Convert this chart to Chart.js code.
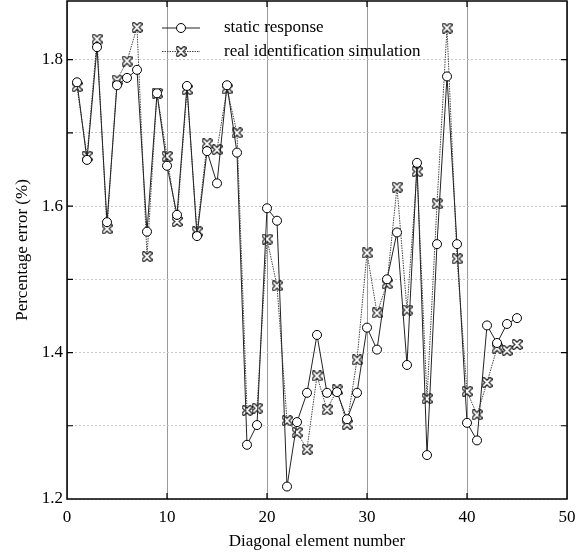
<!DOCTYPE html>
<html>
<head>
<meta charset="utf-8">
<script src="https://cdn.jsdelivr.net/npm/chart.js@4.4.1/dist/chart.umd.min.js"></script>
<style>
  html, body { margin: 0; background: #fff; }
  #wrap { width: 586px; height: 558px; }
</style>
</head>
<body>
<div id="wrap"><canvas id="myChart"></canvas></div>
<script>
const elements = Array.from({ length: 45 }, (_, i) => i + 1);
const staticResponse = [
  1.769, 1.663, 1.817, 1.578, 1.765, 1.775, 1.786, 1.565, 1.754, 1.655,
  1.588, 1.764, 1.559, 1.675, 1.631, 1.765, 1.673, 1.274, 1.301, 1.597,
  1.580, 1.217, 1.305, 1.345, 1.424, 1.345, 1.346, 1.309, 1.345, 1.434,
  1.404, 1.500, 1.564, 1.383, 1.659, 1.260, 1.548, 1.777, 1.548, 1.304,
  1.280, 1.437, 1.413, 1.439, 1.447,
];
const realIdentification = [
  1.763, 1.668, 1.828, 1.569, 1.772, 1.798, 1.844, 1.531, 1.754, 1.668,
  1.579, 1.759, 1.565, 1.685, 1.677, 1.760, 1.700, 1.321, 1.324, 1.555,
  1.491, 1.307, 1.291, 1.268, 1.368, 1.322, 1.349, 1.302, 1.390, 1.536,
  1.454, 1.494, 1.626, 1.458, 1.647, 1.337, 1.603, 1.843, 1.528, 1.347,
  1.315, 1.359, 1.406, 1.403, 1.411,
];
const xTicks = [0, 10, 20, 30, 40, 50];
const yTicks = [1.2, 1.3, 1.4, 1.5, 1.6, 1.7, 1.8];

const serif = "'Liberation Serif', 'DejaVu Serif', serif";
const font = { family: serif, size: 17 };

// hollow X marker
function makeCross() {
  const c = document.createElement("canvas");
  c.width = 11;
  c.height = 11;
  const g = c.getContext("2d");
  g.lineCap = "round";
  const strokeX = () => {
    g.beginPath();
    g.moveTo(2.3, 2.3); g.lineTo(8.7, 8.7);
    g.moveTo(8.7, 2.3); g.lineTo(2.3, 8.7);
    g.stroke();
  };
  g.strokeStyle = "#000";
  g.lineWidth = 4.2;
  strokeX();
  g.strokeStyle = "#fff";
  g.lineWidth = 2;
  strokeX();
  return c;
}
const crossImg = makeCross();

const toPoints = (vals) => vals.map((v, i) => ({ x: elements[i], y: v }));

const framePlugin = {
  id: "frame",
  afterDraw(chart) {
    const { ctx, chartArea: a, scales } = chart;
    ctx.save();
    ctx.strokeStyle = "#000";
    ctx.lineWidth = 1.5;
    ctx.strokeRect(a.left, a.top, a.right - a.left, a.bottom - a.top);
    ctx.lineWidth = 1.2;
    ctx.beginPath();
    xTicks.slice(1, -1).forEach((v) => {
      const px = scales.x.getPixelForValue(v);
      ctx.moveTo(px, a.bottom); ctx.lineTo(px, a.bottom - 6);
      ctx.moveTo(px, a.top); ctx.lineTo(px, a.top + 6);
    });
    yTicks.slice(1).forEach((v) => {
      const py = scales.y.getPixelForValue(v);
      ctx.moveTo(a.left, py); ctx.lineTo(a.left + 6, py);
      ctx.moveTo(a.right, py); ctx.lineTo(a.right - 6, py);
    });
    ctx.stroke();

    // legend
    chart.data.datasets.forEach((ds, i) => {
      const y = a.top + 27 + i * 23.5;
      const x0 = a.left + 95;
      ctx.strokeStyle = ds.borderColor;
      ctx.lineWidth = ds.borderWidth;
      ctx.setLineDash(ds.borderDash || []);
      ctx.beginPath();
      ctx.moveTo(x0, y); ctx.lineTo(x0 + 38, y);
      ctx.stroke();
      ctx.setLineDash([]);
      if (ds.pointStyle === "circle") {
        ctx.fillStyle = "#fff";
        ctx.strokeStyle = "#000";
        ctx.lineWidth = 1;
        ctx.beginPath();
        ctx.arc(x0 + 19, y, ds.pointRadius, 0, Math.PI * 2);
        ctx.fill();
        ctx.stroke();
      } else {
        Chart.helpers.drawPoint(ctx, {
          pointStyle: ds.pointStyle,
          radius: ds.pointRadius,
          borderWidth: ds.pointBorderWidth,
          rotation: 0,
        }, x0 + 19, y);
      }
      ctx.fillStyle = "#000";
      ctx.font = `17px ${serif}`;
      ctx.textBaseline = "middle";
      ctx.fillText(ds.label, x0 + 62, y);
    });
    ctx.restore();
  },
};

new Chart(document.getElementById("myChart"), {
  type: "line",
  data: {
    datasets: [
      {
        label: "static response",
        data: toPoints(staticResponse),
        borderColor: "#222",
        borderWidth: 1,
        pointStyle: "circle",
        pointRadius: 4.5,
        pointBackgroundColor: "#fff",
        pointBorderColor: "#000",
        pointBorderWidth: 1,
        tension: 0,
      },
      {
        label: "real identification simulation",
        data: toPoints(realIdentification),
        borderColor: "#444",
        borderWidth: 1,
        borderDash: [1.5, 1],
        pointStyle: crossImg,
        pointRadius: 5,
        pointBorderWidth: 1,
        tension: 0,
      },
    ],
  },
  options: {
    responsive: true,
    maintainAspectRatio: false,
    animation: false,
    layout: { autoPadding: false, padding: { top: 1, right: 19, left: 0, bottom: 0 } },
    plugins: {
      legend: { display: false },
      tooltip: { enabled: false },
    },
    scales: {
      x: {
        type: "linear",
        min: 0,
        max: 50,
        afterBuildTicks: (s) => { s.ticks = xTicks.map((v) => ({ value: v })); },
        afterFit: (s) => { s.height = 59; },
        ticks: { font, color: "#000", padding: 8, maxRotation: 0 },
        grid: { color: "#999", lineWidth: 1, drawTicks: false },
        border: { display: false },
        title: {
          display: true,
          text: "Diagonal element number",
          font,
          color: "#000",
          padding: { top: 0, bottom: 6 },
        },
      },
      y: {
        min: 1.2,
        max: 1.88,
        afterBuildTicks: (s) => { s.ticks = yTicks.map((v) => ({ value: v })); },
        afterFit: (s) => { s.width = 67; s.paddingTop = 0; s.paddingBottom = 0; },
        ticks: {
          font,
          color: "#000",
          padding: 4,
          callback: (v) => (Math.round(v * 10) % 2 === 0 ? v.toFixed(1) : ""),
        },
        grid: { color: "#c8c8c8", lineWidth: 1, drawTicks: false },
        border: { display: false, dash: [2, 2] },
        title: {
          display: true,
          text: "Percentage error (%)",
          font,
          color: "#000",
          padding: { top: 12, bottom: 0 },
        },
      },
    },
  },
  plugins: [framePlugin],
});
</script>
</body>
</html>
